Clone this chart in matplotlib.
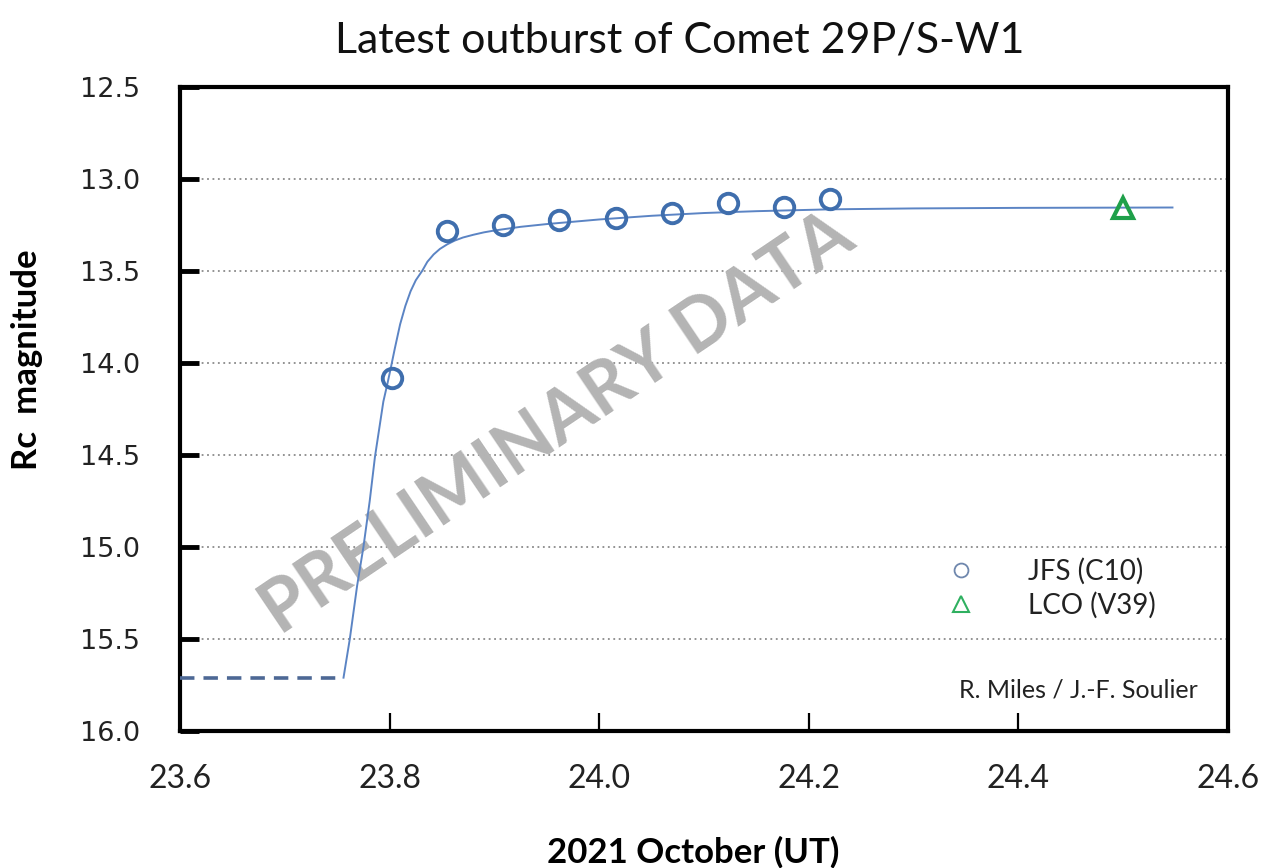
"""Latest outburst of Comet 29P/S-W1 - light curve."""

import matplotlib
matplotlib.use("Agg")
import matplotlib.pyplot as plt
from matplotlib.lines import Line2D

# observations (day of 2021 October, Rc magnitude)
jfs_day = [23.802, 23.855, 23.908, 23.962, 24.016, 24.069, 24.123, 24.176, 24.220]
jfs_mag = [14.08, 13.28, 13.25, 13.225, 13.21, 13.185, 13.13, 13.15, 13.11]
lco_day = [24.500]
lco_mag = [13.16]

# pre-outburst level (dashed)
pre_day = [23.600, 23.756]
pre_mag = [15.71, 15.71]

# fitted curve
fit_day = [23.756, 23.762, 23.769, 23.775, 23.781, 23.786, 23.790, 23.794,
           23.798, 23.801, 23.805, 23.810, 23.815, 23.820, 23.825, 23.831,
           23.836, 23.842, 23.848, 23.855, 23.862, 23.870, 23.880, 23.890,
           23.900, 23.925, 23.950, 24.000, 24.050, 24.100, 24.150, 24.220,
           24.300, 24.400, 24.547]
fit_mag = [15.71, 15.50, 15.21, 15.00, 14.75, 14.51, 14.36, 14.21,
           14.11, 14.03, 13.92, 13.79, 13.69, 13.61, 13.55, 13.50,
           13.45, 13.41, 13.38, 13.355, 13.335, 13.318, 13.303, 13.29,
           13.28, 13.26, 13.245, 13.22, 13.20, 13.185, 13.175, 13.165,
           13.16, 13.157, 13.155]

x_ticks = [23.6, 23.8, 24.0, 24.2, 24.4, 24.6]
y_ticks = [12.5, 13.0, 13.5, 14.0, 14.5, 15.0, 15.5, 16.0]

FONT = ["Lato", "DejaVu Sans"]
plt.rcParams["font.family"] = FONT

fig = plt.figure(figsize=(12.66, 8.68), dpi=100)
ax = fig.add_axes([0.1422, 0.1578, 0.8278, 0.742])

for y in y_ticks[1:-1]:
    ax.axhline(y, color="#8a8a8a", linestyle=(0, (1, 2)), linewidth=1.3, zorder=1)

ax.text(23.96, 14.33, "PRELIMINARY DATA", rotation=34, fontsize=52, fontweight="bold",
        color="#b4b4b4", ha="center", va="center", zorder=2)

ax.plot(pre_day, pre_mag, color="#4d6895", linestyle=(0, (4, 2.5)), linewidth=2.6, zorder=3)
ax.plot(fit_day, fit_mag, color="#5b84c4", linewidth=1.4, zorder=3)
ax.plot(jfs_day, jfs_mag, linestyle="none", marker="o", markersize=14,
        markerfacecolor="none", markeredgecolor="#3f6ead", markeredgewidth=2.8, zorder=4)
ax.plot(lco_day, lco_mag, linestyle="none", marker="^", markersize=15,
        markerfacecolor="none", markeredgecolor="#1fa04a", markeredgewidth=3, zorder=4)

ax.set_xlim(23.6, 24.6)
ax.set_ylim(16.0, 12.5)
ax.set_xticks(x_ticks)
ax.set_xticklabels([f"{v:.1f}" for v in x_ticks])
ax.set_yticks(y_ticks)
ax.set_yticklabels([f"{v:.1f}" for v in y_ticks], family=["DejaVu Sans"])
ax.tick_params(axis="y", direction="in", length=14, width=3.5, labelsize=19.5, pad=29,
               labelcolor="#222222")
ax.tick_params(axis="x", direction="in", length=13, width=1.6, labelsize=23, pad=24,
               labelcolor="#222222")
for sp in ax.spines.values():
    sp.set_linewidth(3)

handles = [
    Line2D([], [], linestyle="none", marker="o", markersize=10, markerfacecolor="none",
           markeredgecolor="#6f87ad", markeredgewidth=1.3, label="JFS (C10)"),
    Line2D([], [], linestyle="none", marker="^", markersize=11, markerfacecolor="none",
           markeredgecolor="#2fb060", markeredgewidth=1.5, label="LCO (V39)"),
]
ax.legend(handles=handles, loc="upper left", bbox_to_anchor=(0.748, 0.357),
          bbox_transform=fig.transFigure, frameon=False, fontsize=20,
          handlelength=1.0, handletextpad=1.9, labelspacing=0.25, borderpad=0,
          borderaxespad=0, labelcolor="#222222")

ax.text(0.971, 0.064, "R. Miles / J.-F. Soulier", transform=ax.transAxes,
        ha="right", va="center", fontsize=18, color="#222222")

fig.text(0.537, 0.953, "Latest outburst of Comet 29P/S-W1", ha="center", va="center",
         fontsize=31, color="#111111")
ax.set_xlabel("2021 October (UT)", fontsize=25, fontweight="bold")
ax.xaxis.set_label_coords(0.49, -0.163)
ax.set_ylabel("Rc  magnitude", fontsize=25, fontweight="bold")
ax.yaxis.set_label_coords(-0.131, 0.576)

fig.savefig("out.png", dpi=100)
